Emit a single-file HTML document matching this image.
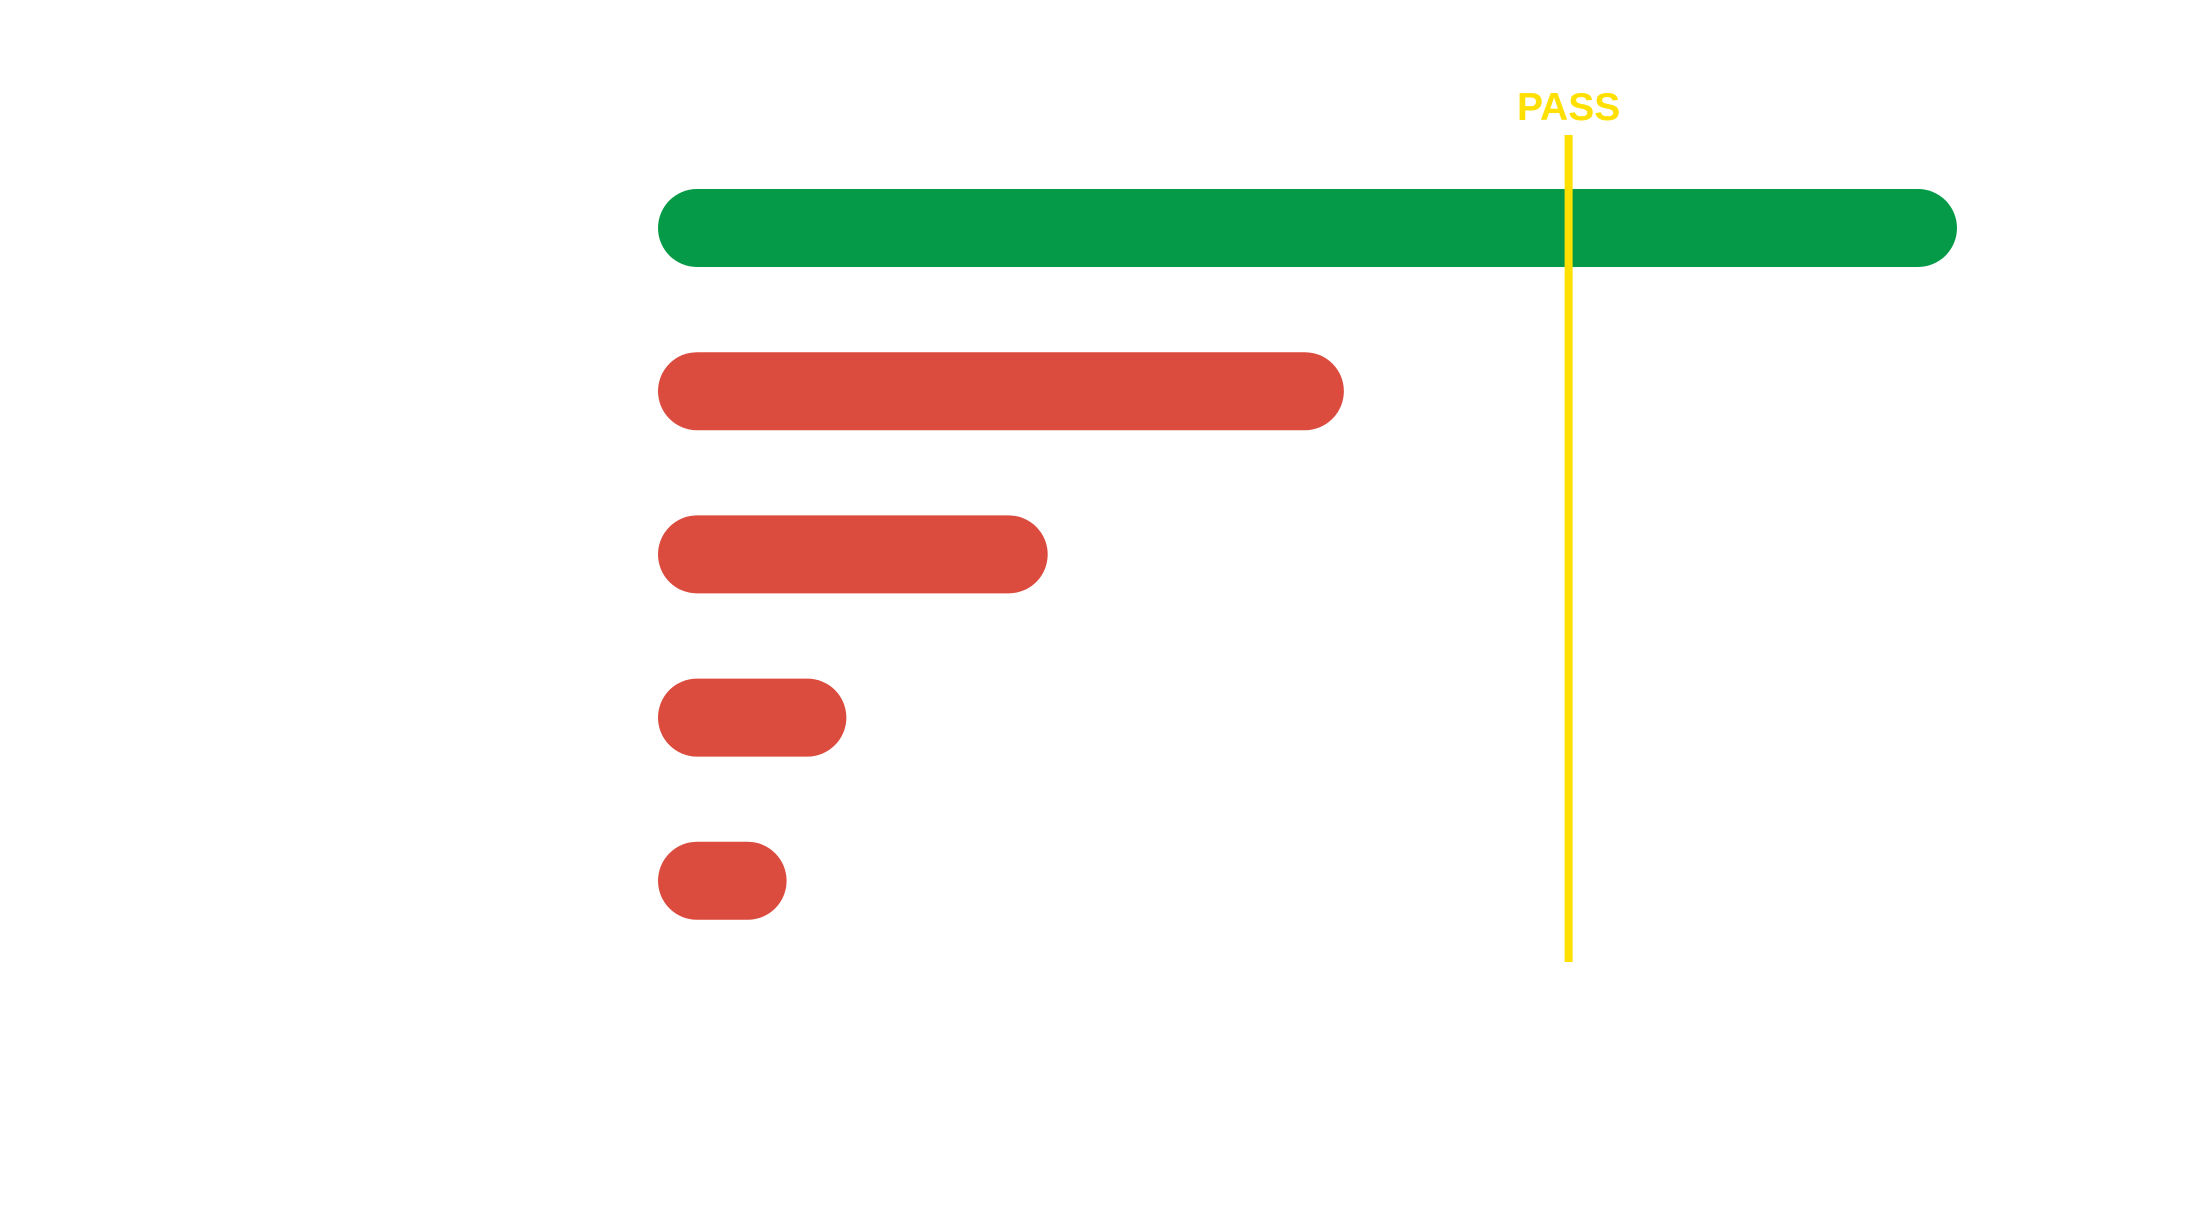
<!DOCTYPE html>
<html><head><meta charset="utf-8"><style>html,body{margin:0;padding:0;background:#fff;width:2200px;height:1212px;overflow:hidden}</style></head>
<body>
<svg id="chart" width="2200" height="1212" xmlns="http://www.w3.org/2000/svg"></svg>
<script>
const categories = ["item-1","item-2","item-3","item-4","item-5"];
const values = [100, 52.8, 30, 14.5, 9.9];
const passValue = 70.1;
const passLabel = "PASS";

const svg = document.getElementById('chart');
const NS = 'http://www.w3.org/2000/svg';
const x0 = 658, pxPerUnit = 12.99;
function x(v){ return x0 + v * pxPerUnit; }
const yTop = 228, yStep = 163.2, barH = 78;
function y(i){ return yTop + i * yStep; }

values.forEach((v, i) => {
  const r = document.createElementNS(NS, 'rect');
  r.setAttribute('x', x(0));
  r.setAttribute('y', y(i) - barH/2);
  r.setAttribute('width', Math.max(barH, x(v) - x(0)));
  r.setAttribute('height', barH);
  r.setAttribute('rx', barH/2);
  r.setAttribute('fill', v >= passValue ? '#059A48' : '#DB4C3F');
  
  
  svg.appendChild(r);
});

const line = document.createElementNS(NS, 'rect');
line.setAttribute('x', x(passValue) - 4);
line.setAttribute('y', 135);
line.setAttribute('width', 8);
line.setAttribute('height', 827);
line.setAttribute('fill', '#FFE000');


svg.appendChild(line);

const t = document.createElementNS(NS, 'text');
t.setAttribute('x', x(passValue));
t.setAttribute('y', 120);
t.setAttribute('text-anchor', 'middle');
t.setAttribute('font-family', 'Liberation Sans, sans-serif');
t.setAttribute('font-weight', 'bold');
t.setAttribute('font-size', '39');
t.setAttribute('fill', '#FFE000');
t.textContent = passLabel;


svg.appendChild(t);
</script>
</body></html>
